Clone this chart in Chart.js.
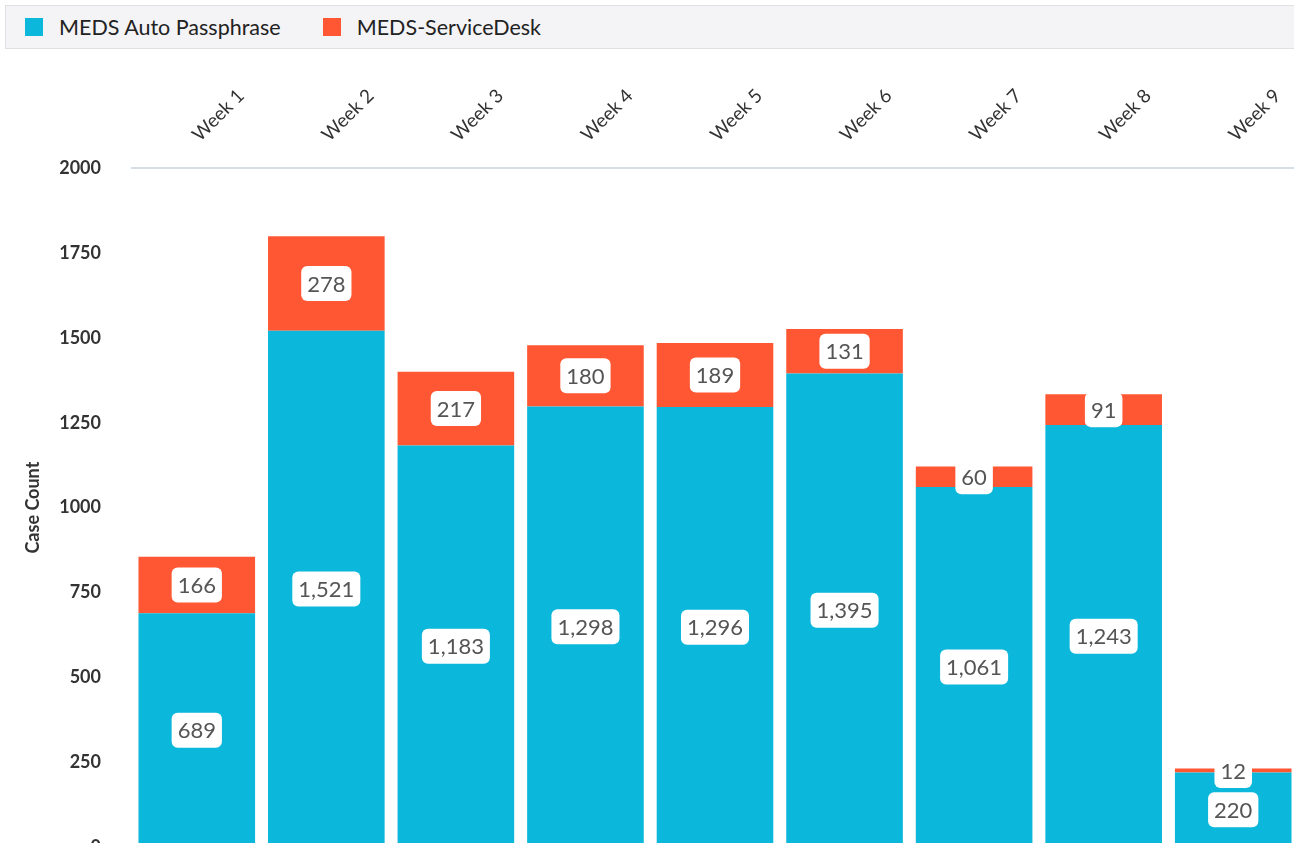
<!DOCTYPE html>
<html>
<head>
<meta charset="utf-8">
<script src="https://cdn.jsdelivr.net/npm/chart.js@4"></script>
<style>
  body { margin: 0; overflow: hidden; background: #fff; font-family: Lato, sans-serif; }
  .legend {
    position: absolute; left: 5px; top: 5px; width: 1300px; height: 44px;
    background: #f4f4f6; border: 1px solid #e0e0e2; box-sizing: border-box;
    display: flex; align-items: center; padding-left: 19px;
  }
  .legend .item { display: flex; align-items: center; margin-right: 42px; font-size: 21.5px; color: #222; }
  .legend .sw { width: 18px; height: 18px; margin-right: 16px; }
  .wrap { position: absolute; left: 0; top: 55px; width: 1300px; height: 826px; }
</style>
</head>
<body>
<div class="legend" id="legend"></div>
<div class="wrap"><canvas class="graph"></canvas></div>
<script>
const weeks = ['Week 1', 'Week 2', 'Week 3', 'Week 4', 'Week 5', 'Week 6', 'Week 7', 'Week 8', 'Week 9'];
const autoPass = [689, 1521, 1183, 1298, 1296, 1395, 1061, 1243, 220];
const serviceDesk = [166, 278, 217, 180, 189, 131, 60, 91, 12];
const seriesNames = ['MEDS Auto Passphrase', 'MEDS-ServiceDesk'];
const seriesColors = ['#0bb7da', '#ff5733'];

// white boxes with the value in the middle of each segment
const boxLabels = {
    id: 'boxLabels',
    afterDatasetsDraw(chart) {
        const c = chart.ctx;
        c.save();
        c.font = '22px Lato';
        c.textAlign = 'center';
        c.textBaseline = 'middle';
        chart.data.datasets.forEach((ds, i) => {
            chart.getDatasetMeta(i).data.forEach((bar, j) => {
                const txt = ds.data[j].toLocaleString('en-US');
                const cy = (bar.y + bar.base) / 2;
                const w = c.measureText(txt).width + 12;
                const h = 35;
                c.fillStyle = '#fff';
                c.beginPath();
                c.roundRect(bar.x - w / 2, cy - h / 2, w, h, 6);
                c.fill();
                c.fillStyle = '#555';
                c.fillText(txt, bar.x, cy + 1);
            });
        });
        c.restore();
    }
};

const ctx = document.querySelector('.graph');
const myChart = new Chart(ctx, {
    type: 'bar',
    data: {
        labels: weeks,
        datasets: [{
            label: seriesNames[0],
            data: autoPass,
            backgroundColor: seriesColors[0]
        }, {
            label: seriesNames[1],
            data: serviceDesk,
            backgroundColor: seriesColors[1]
        }]
    },
    options: {
        responsive: true,
        maintainAspectRatio: false,
        animation: false,
        layout: { padding: { top: 0, right: 2, bottom: 13, left: 0 } },
        datasets: { bar: { barPercentage: 0.9, categoryPercentage: 1 } },
        scales: {
            x: {
                position: 'top',
                stacked: true,
                grid: { display: false },
                border: { color: '#d6dee8', width: 2 },
                ticks: {
                    minRotation: 45, maxRotation: 45,
                    padding: 14,
                    labelOffset: 15,
                    color: '#333',
                    font: { family: 'Lato', size: 19 }
                },
                afterFit: (s) => { s.height = 113; }
            },
            y: {
                stacked: true,
                min: 0, max: 2000,
                grid: { display: false },
                border: { display: false },
                ticks: {
                    stepSize: 250,
                    padding: 23,
                    color: '#333',
                    font: { family: 'Lato', size: 18, weight: 'bold' },
                    callback: (v) => String(v)
                },
                title: {
                    display: true,
                    text: 'Case Count',
                    color: '#333',
                    font: { family: 'Lato', size: 18, weight: 'bold' },
                    padding: { top: 22, bottom: 0 }
                },
                afterFit: (s) => { s.width = 132; }
            }
        },
        plugins: {
            legend: { display: false },
            tooltip: { enabled: false }
        }
    },
    plugins: [boxLabels]
});

// legend : HTML
const legendEl = document.getElementById('legend');
myChart.data.datasets.forEach((ds) => {
    const item = document.createElement('div');
    item.className = 'item';
    item.innerHTML = '<span class="sw" style="background:' + ds.backgroundColor + '"></span>' + ds.label;
    legendEl.appendChild(item);
});
</script>
</body>
</html>
